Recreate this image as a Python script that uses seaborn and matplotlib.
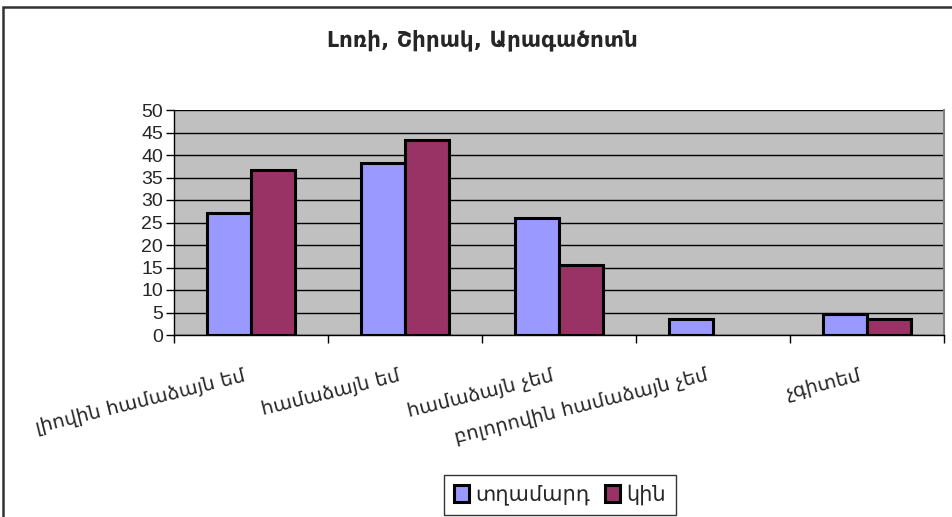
import matplotlib
matplotlib.use("Agg")
import matplotlib.pyplot as plt
import matplotlib.patches as mpatches
import matplotlib.transforms as mtransforms
import seaborn as sns
import pandas as pd

# Survey answers by gender (percent)
categories = ["լիովին համաձայն եմ", "համաձայն եմ", "համաձայն չեմ",
              "բոլորովին համաձայն չեմ", "չգիտեմ"]
series_names = ["տղամարդ", "կին"]
men = [27.2, 38.3, 26.1, 3.6, 4.6]
women = [36.6, 43.4, 15.5, 0.0, 3.6]
y_ticks = [0, 5, 10, 15, 20, 25, 30, 35, 40, 45, 50]
title = "Լոռի, Շիրակ, Արագածոտն"

df = pd.DataFrame({
    "category": categories * 2,
    "group": [series_names[0]] * len(men) + [series_names[1]] * len(women),
    "value": men + women,
})

sns.set_theme(style="white")
plt.rcParams["font.family"] = ["DejaVu Sans", "Liberation Sans"]

W, H = 953, 517
fig = plt.figure(figsize=(W / 100, H / 100), dpi=100)
ax = fig.add_axes([174 / W, 1 - 335 / H, (944 - 174) / W, (335 - 110) / H])
ax.set_facecolor("#C0C0C0")

palette = {series_names[0]: "#9999FF", series_names[1]: "#993366"}
sns.barplot(data=df, x="category", y="value", hue="group", order=categories,
            hue_order=series_names, palette=palette, width=4 / 7,
            edgecolor="black", linewidth=2.2, saturation=1, ax=ax, legend=False,
            zorder=3)

# Empty answers get no visible bar outline
for bar in ax.patches:
    if bar.get_height() == 0:
        bar.set_visible(False)

ax.set_ylim(0, 50)
ax.set_xlim(-0.5, len(categories) - 0.5)
ax.set_yticks(y_ticks)
ax.set_yticklabels([str(v) for v in y_ticks], family="Liberation Sans", fontsize=14)
ax.yaxis.grid(True, color="black", linewidth=1.0, zorder=0)
ax.set_axisbelow(True)

# Category ticks sit on the boundaries between groups
ax.set_xticks([i - 0.5 for i in range(len(categories) + 1)])
ax.set_xticklabels([])
ax.tick_params(axis="x", direction="out", length=6, width=1, color="black", bottom=True)
ax.tick_params(axis="y", direction="out", length=6, width=1, color="black", left=True, pad=2)
ax.set_xlabel("")
ax.set_ylabel("")

ax.spines["top"].set_visible(False)
ax.spines["right"].set_color("#808080")
ax.spines["right"].set_linewidth(1.5)
for side in ["left", "bottom"]:
    ax.spines[side].set_color("black")
    ax.spines[side].set_linewidth(1)

# Rotated category labels, right end anchored just left of each group centre
for i, lab in enumerate(categories):
    off = mtransforms.offset_copy(ax.get_xaxis_transform(), fig=fig,
                                  x=-8, y=-31, units="dots")
    ax.text(i, 0, lab, transform=off, rotation=14, rotation_mode="anchor",
            ha="right", va="top", fontsize=14)

fig.text(482 / W, 1 - 40 / H, title, ha="center", va="center",
         fontsize=15.5, fontweight="bold")

handles = [mpatches.Patch(facecolor=palette[n], edgecolor="black", linewidth=2.2, label=n)
           for n in series_names]
leg = fig.legend(handles=handles, loc="center", bbox_to_anchor=(560 / W, 1 - 495 / H),
                 ncol=2, frameon=True, fontsize=15, handlelength=0.75, handleheight=0.9,
                 handletextpad=0.3, columnspacing=0.7, borderpad=0.45, fancybox=False)
leg.get_frame().set_edgecolor("black")
leg.get_frame().set_linewidth(1)

# Chart frame (left and top edges visible)
fig.add_artist(mpatches.Rectangle((3.5 / W, -0.1), 1.2, 1 - 7 / H + 0.1,
                                  transform=fig.transFigure, fill=False,
                                  edgecolor="#333333", linewidth=1.8))

fig.savefig("out.png", dpi=100, facecolor="white")
